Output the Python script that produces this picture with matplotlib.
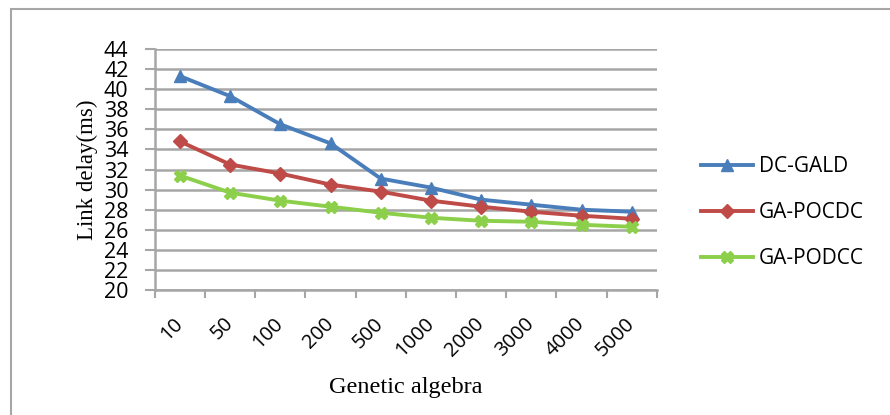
import numpy as np
import matplotlib
matplotlib.use('Agg')
from matplotlib import pyplot as plt
from matplotlib.patches import Rectangle

categories = ['10', '50', '100', '200', '500', '1000', '2000', '3000', '4000', '5000']
dc_gald = [41.3, 39.3, 36.5, 34.6, 31.1, 30.2, 29.0, 28.5, 28.0, 27.8]
ga_pocdc = [34.8, 32.5, 31.6, 30.5, 29.8, 28.9, 28.3, 27.8, 27.4, 27.1]
ga_podcc = [31.4, 29.7, 28.9, 28.3, 27.7, 27.2, 26.9, 26.8, 26.5, 26.3]
y_ticks = list(range(20, 45, 2))

grid_col = '#A6A6A6'
fig = plt.figure(figsize=(8.9, 4.15), dpi=100)
fig.patches.append(Rectangle((11 / 890, -0.1), 1.2, 1 - 9 / 415 + 0.1, transform=fig.transFigure,
                             fill=False, edgecolor=grid_col, linewidth=1.5))
ax = fig.add_axes([0.174, 0.301, 0.564, 0.581])

x = np.arange(len(categories))
ax.plot(x, dc_gald, color='#4A7EBB', lw=2.8, marker='^', ms=9, label='DC-GALD')
ax.plot(x, ga_pocdc, color='#BE4B48', lw=2.8, marker='D', ms=7, label='GA-POCDC')
ax.plot(x, ga_podcc, color='#8CCF4A', lw=2.8, marker='X', ms=8, label='GA-PODCC')

ax.set_xlim(-0.5, len(categories) - 0.5)
ax.set_ylim(20, 44)
ax.set_yticks(y_ticks)
ax.set_yticklabels([str(v) for v in y_ticks], family='Open Sans', fontsize=15.5)
ax.set_xticks(x)
ax.set_xticklabels(categories, rotation=45, family='Open Sans', fontsize=14.5,
                   ha='right', va='center', rotation_mode='anchor')
ax.set_xticks(np.arange(len(categories) + 1) - 0.5, minor=True)
ax.tick_params(axis='x', which='major', length=0, pad=22)
ax.tick_params(axis='x', which='minor', length=6, width=1.5, color=grid_col, direction='out')
ax.tick_params(axis='y', length=7, width=1.5, color=grid_col, pad=12)

ax.grid(axis='y', color=grid_col, lw=1.8)
ax.set_axisbelow(True)
for s in ['top', 'right']:
    ax.spines[s].set_visible(False)
for s in ['left', 'bottom']:
    ax.spines[s].set_color(grid_col)
    ax.spines[s].set_linewidth(1.8)

ax.set_ylabel('Link delay(ms)', family='Liberation Serif', fontsize=16.5, labelpad=4)
ax.set_xlabel('Genetic algebra', family='Liberation Serif', fontsize=17.5, labelpad=12)

ax.legend(loc='center left', bbox_to_anchor=(1.05, 0.32), frameon=False,
          prop={'family': 'Open Sans', 'size': 15}, labelspacing=1.2,
          handlelength=2.5, handletextpad=0.3)

fig.savefig('out.png', dpi=100)
